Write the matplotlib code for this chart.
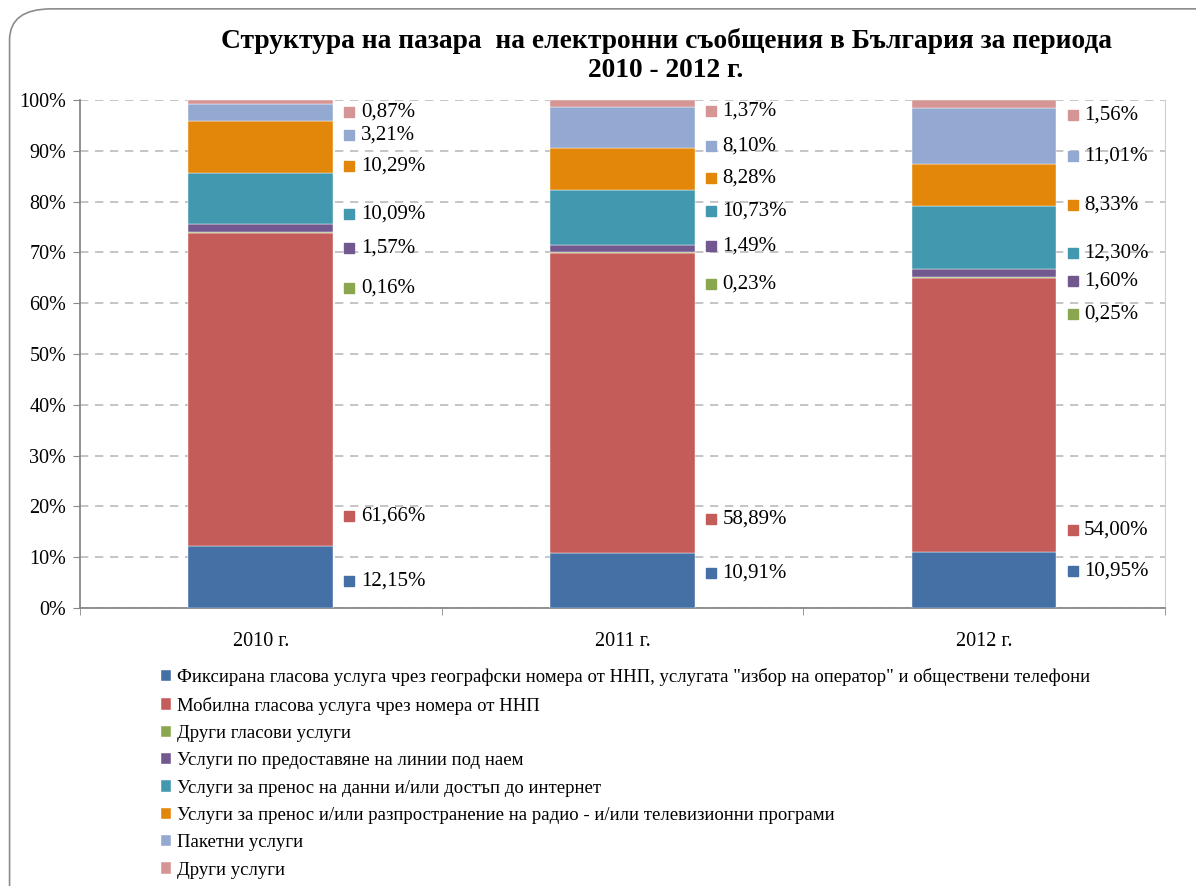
import numpy as np
import matplotlib.pyplot as plt
from matplotlib.patches import FancyBboxPatch

plt.rcParams['font.family'] = ['Liberation Serif', 'DejaVu Serif']

# Data
years = ['2010 г.', '2011 г.', '2012 г.']
series = [
    'Фиксирана гласова услуга чрез географски номера от ННП, услугата "избор на оператор" и обществени телефони',
    'Мобилна гласова услуга чрез номера от ННП',
    'Други гласови услуги',
    'Услуги по предоставяне на линии под наем',
    'Услуги за пренос на данни и/или достъп до интернет',
    'Услуги за пренос и/или разпространение на радио - и/или телевизионни програми',
    'Пакетни услуги',
    'Други услуги',
]
fixed = [12.15, 10.91, 10.95]
mobile = [61.66, 58.89, 54.00]
other_voice = [0.16, 0.23, 0.25]
leased = [1.57, 1.49, 1.60]
data_inet = [10.09, 10.73, 12.30]
tv_radio = [10.29, 8.28, 8.33]
bundles = [3.21, 8.10, 11.01]
other = [0.87, 1.37, 1.56]
values = [fixed, mobile, other_voice, leased, data_inet, tv_radio, bundles, other]

colors = ['#4470A5', '#C45C5A', '#8AA64F', '#71598F',
          '#4298AF', '#E3870A', '#94A9D1', '#D49594']

# label heights (manual placement, as in the original chart)
label_y = [
    [5.3, 6.9, 7.3],
    [18.1, 17.5, 15.4],
    [63.0, 63.8, 57.9],
    [70.9, 71.3, 64.4],
    [77.6, 78.1, 69.9],
    [87.0, 84.6, 79.3],
    [93.1, 90.9, 89.0],
    [97.6, 97.8, 97.0],
]

fig = plt.figure(figsize=(11.96, 8.86), dpi=100)
ax = fig.add_axes([0.0669, 0.3138, 0.907, 0.5733])

x = np.arange(len(years))
width = 0.4
bottom = np.zeros(len(years))
for name, vals, c in zip(series, values, colors):
    ax.bar(x, vals, width, bottom=bottom, color=c, label=name,
           edgecolor='white', linewidth=0.3, zorder=3)
    bottom += np.array(vals)

# value labels with small square markers
for vals, ys, c in zip(values, label_y, colors):
    for i in range(len(years)):
        xm = x[i] + width / 2 + 0.045
        ax.plot(xm, ys[i], marker='s', color=c, markersize=7, zorder=4,
                clip_on=False)
        ax.text(xm + 0.032, ys[i], f'{vals[i]:.2f}%'.replace('.', ','),
                va='center', ha='left', fontsize=15, zorder=4)

ax.set_xlim(-0.5, 2.5)
ax.set_ylim(0, 100)
ax.set_yticks(np.arange(0, 101, 10))
ax.set_yticklabels([f'{v}%' for v in range(0, 101, 10)], fontsize=14.5)
ax.set_xticks(x)
ax.set_xticklabels(years, fontsize=14.5)
ax.set_xticks([-0.5, 0.5, 1.5, 2.5], minor=True)
ax.tick_params(axis='x', which='major', length=0, pad=17)
ax.tick_params(axis='x', which='minor', length=5, color='#888888')
ax.tick_params(axis='y', length=5, color='#888888', pad=5)

ax.grid(axis='y', linestyle=(0, (5, 4)), color='#BBBBBB', linewidth=1.2, zorder=0)
for s in ['left', 'bottom']:
    ax.spines[s].set_color('#888888')
    ax.spines[s].set_linewidth(1.3)
ax.spines['top'].set_visible(False)
ax.spines['right'].set_color('#D0D0D0')

fig.text(0.557, 0.968, 'Структура на пазара  на електронни съобщения в България за периода\n2010 - 2012 г.',
         ha='center', va='top', fontsize=19.8, fontweight='bold', linespacing=1.2)

leg = fig.legend(loc='upper left', bbox_to_anchor=(0.128, 0.254), frameon=False,
                 fontsize=13.5, handlelength=0.55, handleheight=0.55,
                 handletextpad=0.3, labelspacing=0.55, borderaxespad=0)

frame = FancyBboxPatch((0.008, -0.05), 1.1, 1.04, boxstyle='round,pad=0,rounding_size=0.035',
                       transform=fig.transFigure, facecolor='none',
                       edgecolor='#8C8C8C', linewidth=1.2)
fig.patches.append(frame)

fig.savefig('out.png', dpi=100)
